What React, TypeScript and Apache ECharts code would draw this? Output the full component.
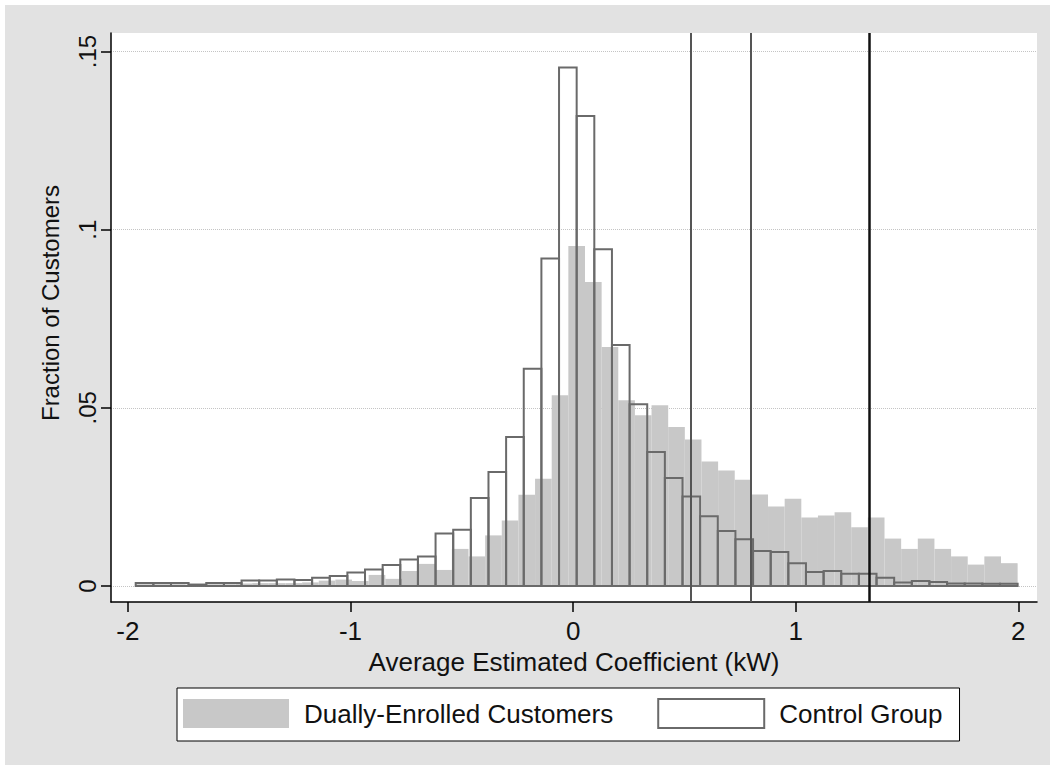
import React, { useEffect, useRef } from 'react';
import * as echarts from 'echarts';

// ---- data ----
const xTicks = [-2, -1, 0, 1, 2];
const yTicks = [0, 0.05, 0.1, 0.15];
const yTickLabels = ['0', '.05', '.1', '.15'];
const seriesNames = ['Dually-Enrolled Customers', 'Control Group'];
const binStart = -1.965;
const binEnd = 1.997;
// fraction of customers per bin (53 bins)
const dualFrac = [
  0.0005, 0.0005, 0.0005, 0.0004, 0.0005, 0.0005, 0.0007, 0.0008, 0.0008, 0.0008,
  0.001, 0.0015, 0.0018, 0.0014, 0.0031, 0.002, 0.0042, 0.0062, 0.0045, 0.0104,
  0.0083, 0.0142, 0.0184, 0.0256, 0.0301, 0.0535, 0.0954, 0.0853, 0.0671, 0.0521,
  0.0479, 0.0507, 0.0446, 0.0411, 0.0349, 0.0324, 0.0298, 0.0257, 0.0223, 0.0245,
  0.0192, 0.0198, 0.0207, 0.0165, 0.0192, 0.0133, 0.0104, 0.0133, 0.0104, 0.0083,
  0.006, 0.0083, 0.0064,
];
// fraction of customers per bin (50 bins)
const controlFrac = [
  0.0008, 0.0008, 0.0008, 0.0004, 0.0008, 0.0008, 0.0015, 0.0015, 0.0018, 0.0017,
  0.0023, 0.0028, 0.0038, 0.0046, 0.0059, 0.0074, 0.0083, 0.0147, 0.0158, 0.0247,
  0.032, 0.0418, 0.061, 0.0919, 0.1455, 0.1319, 0.0945, 0.0676, 0.051, 0.0376,
  0.0303, 0.0251, 0.0196, 0.0154, 0.0131, 0.0098, 0.0095, 0.0064, 0.0039, 0.0042,
  0.0034, 0.0034, 0.0023, 0.001, 0.0014, 0.0011, 0.0007, 0.0007, 0.0006, 0.0006,
];
const thresholdLines = [0.531, 0.802, 1.333];

const FONT = '"Liberation Sans", Arial, Helvetica, sans-serif';

function toBins(values: number[]) {
  const w = (binEnd - binStart) / values.length;
  return values.map((v, i) => [binStart + i * w, binStart + (i + 1) * w, v]);
}

function makeRender(style: any) {
  return (params: any, api: any) => {
    const x0 = api.value(0);
    const x1 = api.value(1);
    const y = api.value(2);
    const p0 = api.coord([x0, y]);
    const p1 = api.coord([x1, 0]);
    return {
      type: 'rect',
      shape: { x: p0[0], y: p0[1], width: p1[0] - p0[0], height: p1[1] - p0[1] },
      style,
    };
  };
}

export default function App() {
  const ref = useRef<HTMLDivElement>(null);
  useEffect(() => {
    if (!ref.current) return;
    const chart = echarts.init(ref.current, null, { renderer: 'svg' });
    const lineColors = ['#555555', '#555555', '#111111'];
    const lineWidths = [2, 2, 2.5];
    chart.setOption({
      animation: false,
      backgroundColor: 'transparent',
      textStyle: { fontFamily: FONT },
      grid: {
        left: 111,
        top: 33,
        right: 18,
        bottom: 167,
        show: true,
        backgroundColor: '#ffffff',
        borderWidth: 0,
      },
      xAxis: {
        type: 'value',
        min: -2.076,
        max: 2.084,
        name: 'Average Estimated Coefficient (kW)',
        nameLocation: 'middle',
        nameGap: 46,
        nameTextStyle: { fontSize: 26, color: '#111', fontFamily: FONT },
        axisLine: { onZero: false, lineStyle: { color: '#000', width: 1.5 } },
        axisTick: { show: true, length: 10, customValues: xTicks, lineStyle: { color: '#000', width: 1.5 } },
        axisLabel: { customValues: xTicks, fontSize: 26, color: '#111', margin: 16, fontFamily: FONT },
        splitLine: { show: false },
      },
      yAxis: {
        type: 'value',
        min: -0.0045,
        max: 0.1552,
        axisLine: { show: true, onZero: false, lineStyle: { color: '#000', width: 1.5 } },
        axisTick: { show: true, length: 10, customValues: yTicks, lineStyle: { color: '#000', width: 1.5 } },
        axisLabel: {
          customValues: yTicks,
          rotate: 90,
          fontSize: 24,
          color: '#111',
          margin: 12,
          fontFamily: FONT,
          formatter: (v: number) => {
            const i = yTicks.findIndex((t) => Math.abs(t - v) < 1e-9);
            return i >= 0 ? yTickLabels[i] : '';
          },
        },
        splitLine: { show: true, lineStyle: { type: 'dotted', color: '#c4c4c4', width: 1 } },
      },
      legend: {
        left: 177,
        top: 688,
        orient: 'horizontal',
        backgroundColor: '#ffffff',
        borderColor: '#000',
        borderWidth: 1,
        borderRadius: 0,
        padding: [10, 17, 12, 6],
        itemWidth: 106,
        itemHeight: 29,
        itemGap: 44,
        selectedMode: false,
        textStyle: { fontSize: 26, color: '#111', fontFamily: FONT, padding: [0, 0, 0, 10] },
        data: [
          { name: seriesNames[0], icon: 'rect', itemStyle: { color: '#c8c8c8', borderWidth: 0 } },
          { name: seriesNames[1], icon: 'rect', itemStyle: { color: '#ffffff', borderColor: '#6a6a6a', borderWidth: 2 } },
        ],
      },
      graphic: [
        {
          type: 'text',
          x: 50,
          y: 303,
          rotation: Math.PI / 2,
          style: {
            text: 'Fraction of Customers',
            fontSize: 24,
            fontFamily: FONT,
            fill: '#111',
            align: 'center',
            verticalAlign: 'middle',
          },
        },
      ],
      series: [
        {
          name: seriesNames[0],
          type: 'custom',
          z: 2,
          encode: { x: [0, 1], y: 2 },
          data: toBins(dualFrac),
          itemStyle: { color: '#c8c8c8' },
          renderItem: makeRender({ fill: '#c8c8c8', stroke: 'none' }),
        },
        {
          name: seriesNames[1],
          type: 'custom',
          z: 3,
          encode: { x: [0, 1], y: 2 },
          data: toBins(controlFrac),
          itemStyle: { color: '#6a6a6a' },
          renderItem: makeRender({ fill: 'none', stroke: '#6a6a6a', lineWidth: 2 }),
          markLine: {
            silent: true,
            symbol: 'none',
            label: { show: false },
            animation: false,
            data: thresholdLines.map((x, i) => ({
              xAxis: x,
              lineStyle: { color: lineColors[i], width: lineWidths[i], type: 'solid' },
            })),
          },
        },
      ],
    });
    return () => chart.dispose();
  }, []);

  return (
    <div style={{ position: 'absolute', left: 0, top: 0, width: 1055, height: 769, background: '#ffffff' }}>
      <div style={{ position: 'absolute', left: 5, top: 5, width: 1045, height: 760, background: '#e2e2e2' }} />
      <div ref={ref} style={{ position: 'absolute', left: 0, top: 0, width: 1055, height: 769 }} />
    </div>
  );
}
